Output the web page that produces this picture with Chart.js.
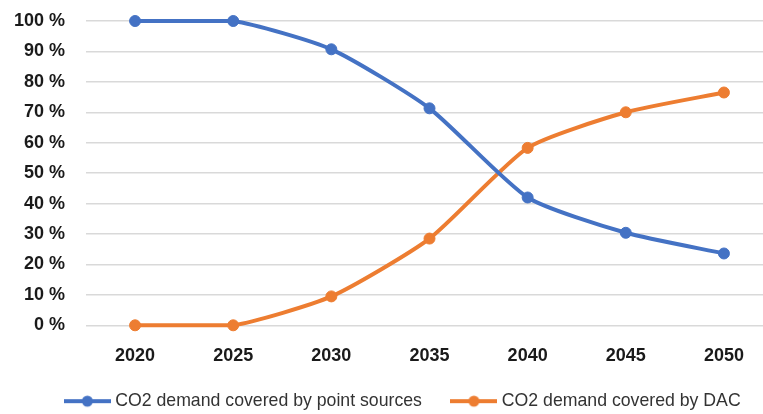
<!DOCTYPE html>
<html>
<head>
<meta charset="utf-8">
<script src="https://cdn.jsdelivr.net/npm/chart.js@4"></script>
<style>
  html, body { margin: 0; padding: 0; background: #fff; overflow: hidden; }
  #wrap { width: 780px; height: 414px; }
</style>
</head>
<body>
<div id="wrap"><canvas id="myChart"></canvas></div>
<script>
const years = ['2020', '2025', '2030', '2035', '2040', '2045', '2050'];
const pointSources = [100, 100, 90.7, 71.3, 42.0, 30.4, 23.6];
const dac = [0, 0, 9.5, 28.5, 58.3, 70.0, 76.5];
const yTicks = [0, 10, 20, 30, 40, 50, 60, 70, 80, 90, 100];

const BLUE = '#4472C4';
const ORANGE = '#ED7D31';

// legend marker: short line with a dot in the middle
function legendMarker(color) {
  const c = document.createElement('canvas');
  c.width = 47;
  c.height = 14;
  const ctx = c.getContext('2d');
  ctx.strokeStyle = color;
  ctx.lineWidth = 4;
  ctx.beginPath();
  ctx.moveTo(0, 7);
  ctx.lineTo(47, 7);
  ctx.stroke();
  ctx.fillStyle = color;
  ctx.beginPath();
  ctx.arc(23.5, 7, 5.5, 0, Math.PI * 2);
  ctx.fill();
  return c;
}

// the legend in the picture sits a bit right of centre
const legendShift = {
  id: 'legendShift',
  afterLayout(chart) {
    chart.legend.left += 11;
    chart.legend.right += 11;
    chart.legend.top -= 2;
    chart.legend.bottom -= 2;
  }
};

const data = {
  labels: years,
  datasets: [
    {
      label: 'CO2 demand covered by point sources',
      data: pointSources,
      borderColor: BLUE,
      backgroundColor: BLUE,
      borderWidth: 4,
      pointRadius: 5.5,
      pointBorderWidth: 1,
      tension: 0.2,
      clip: false,
    },
    {
      label: 'CO2 demand covered by DAC',
      data: dac,
      borderColor: ORANGE,
      backgroundColor: ORANGE,
      borderWidth: 4,
      pointRadius: 5.5,
      pointBorderWidth: 1,
      tension: 0.2,
      clip: false,
    },
  ],
};

const markers = [legendMarker(BLUE), legendMarker(ORANGE)];

const config = {
  type: 'line',
  data,
  plugins: [legendShift],
  options: {
    responsive: false,
    animation: false,
    layout: { padding: { left: 14, right: 7, top: 21, bottom: -8 } },
    scales: {
      x: {
        offset: true,
        grid: { display: false },
        border: { display: false },
        afterFit: scale => { scale.height = 36; },
        ticks: {
          color: '#1a1a1a',
          font: { family: 'Liberation Sans', size: 18, weight: 'bold' },
          padding: 12,
        },
      },
      y: {
        min: 0,
        max: 100,
        afterBuildTicks: scale => { scale.ticks = yTicks.map(v => ({ value: v })); },
        afterFit: scale => {
          scale.width = 72;
          scale.paddingTop = 0;
          scale.paddingBottom = 0;
        },
        grid: { color: '#d9d9d9', lineWidth: 1.5, drawTicks: false },
        border: { display: false },
        ticks: {
          color: '#1a1a1a',
          font: { family: 'Liberation Sans', size: 18, weight: 'bold' },
          padding: 21,
          callback: v => v + ' %',
        },
      },
    },
    plugins: {
      tooltip: { enabled: false },
      legend: {
        position: 'bottom',
        labels: {
          color: '#333',
          font: { family: 'Liberation Sans', size: 17.7 },
          usePointStyle: true,
          pointStyleWidth: 38,
          padding: 33,
          generateLabels: chart => chart.data.datasets.map((ds, i) => ({
            text: ds.label,
            pointStyle: markers[i],
            fillStyle: ds.borderColor,
            strokeStyle: ds.borderColor,
            lineWidth: 0,
            fontColor: '#333',
            datasetIndex: i,
            hidden: false,
          })),
        },
      },
    },
  },
};

const canvas = document.getElementById('myChart');
canvas.width = 780;
canvas.height = 414;
window.myChart = new Chart(canvas, config);
</script>
</body>
</html>
